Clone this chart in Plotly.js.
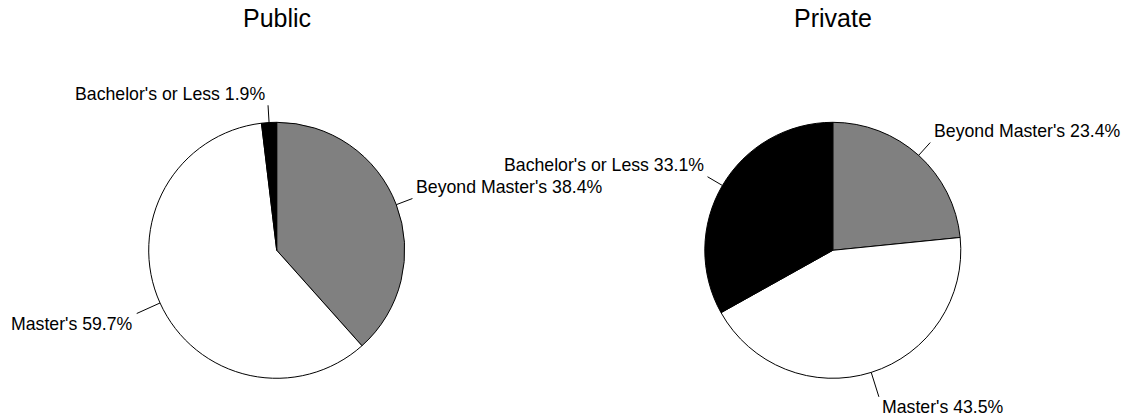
<!DOCTYPE html>
<html>
<head>
<meta charset="utf-8">
<script src="https://cdn.plot.ly/plotly-3.0.1.min.js"></script>
<style>html,body{margin:0;padding:0;background:#fff;}#chart{width:1137px;height:420px;}</style>
</head>
<body>
<div id="chart"></div>
<script>
// ---- data ----
const categories = ["Beyond Master's", "Master's", "Bachelor's or Less"];
const publicValues = [38.4, 59.7, 1.9];
const privateValues = [23.4, 43.5, 33.1];
const panelTitles = ["Public", "Private"];
const sliceColors = ["#808080", "#ffffff", "#000000"];

// ---- layout geometry (pixels) ----
const W = 1137, H = 420;
const R = 128;
const panels = [
  { title: panelTitles[0], values: publicValues, cx: 276.7, cy: 250.3 },
  { title: panelTitles[1], values: privateValues, cx: 832.8, cy: 250.3 }
];
const FONT = 'Liberation Sans, Arial, sans-serif';
const labelSize = 17.7;
const titleSize = 25;

const traces = [];
const annotations = [];
const shapes = [];

function toPaper(x, y) { return [x / W, 1 - y / H]; }

panels.forEach(p => {
  traces.push({
    type: 'pie',
    values: p.values,
    labels: categories,
    sort: false,
    direction: 'clockwise',
    rotation: 0,
    textinfo: 'none',
    hoverinfo: 'none',
    showlegend: false,
    marker: { colors: sliceColors, line: { color: '#000', width: 1 } },
    domain: {
      x: [(p.cx - R) / W, (p.cx + R) / W],
      y: [1 - (p.cy + R) / H, 1 - (p.cy - R) / H]
    }
  });

  // title
  const tp = toPaper(p.cx, 18.4);
  annotations.push({
    xref: 'paper', yref: 'paper', x: tp[0], y: tp[1],
    xanchor: 'center', yanchor: 'middle', showarrow: false,
    text: p.title, font: { family: FONT, size: titleSize, color: '#000' }
  });

  // labels with leader lines
  const total = p.values.reduce((a, b) => a + b, 0);
  let cum = 0;
  p.values.forEach((v, i) => {
    const mid = (cum + v / 2) / total * 2 * Math.PI;
    cum += v;
    const sx = Math.sin(mid), cy = Math.cos(mid);
    const upper = cy > 0;
    const rEnd = upper ? R * 1.135 : R * 1.2;
    const x0 = p.cx + R * sx, y0 = p.cy - R * cy;
    const x1 = p.cx + rEnd * sx, y1 = p.cy - rEnd * cy;
    const a = toPaper(x0, y0), b = toPaper(x1, y1);
    shapes.push({
      type: 'line', xref: 'paper', yref: 'paper',
      x0: a[0], y0: a[1], x1: b[0], y1: b[1],
      line: { color: '#000', width: 1 }
    });
    const right = sx >= 0;
    const tx = right ? x1 + 2.5 : x1 - 2.5;
    const ty = upper ? y1 - 11.3 : y1 + 10.5;
    const t = toPaper(tx, ty);
    annotations.push({
      xref: 'paper', yref: 'paper', x: t[0], y: t[1],
      xanchor: right ? 'left' : 'right', yanchor: 'middle',
      showarrow: false, borderpad: 0,
      text: categories[i] + ' ' + (v / total * 100).toFixed(1) + '%',
      font: { family: FONT, size: labelSize, color: '#000' }
    });
  });
});

const layout = {
  width: W, height: H,
  margin: { l: 0, r: 0, t: 0, b: 0 },
  paper_bgcolor: '#fff', plot_bgcolor: '#fff',
  annotations: annotations,
  shapes: shapes,
  font: { family: FONT, color: '#000' }
};

Plotly.newPlot('chart', traces, layout, { staticPlot: true, displayModeBar: false });
</script>
</body>
</html>
